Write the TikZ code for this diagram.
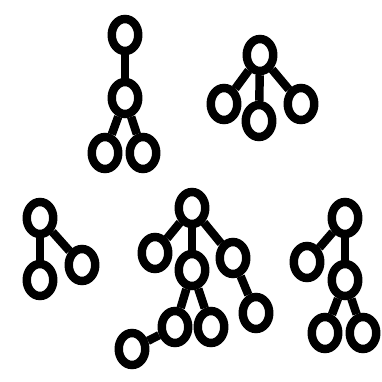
\documentclass[tikz,border=0pt]{standalone}
\usepackage{tikz}
\usetikzlibrary{shapes.geometric}

\begin{document}
\begin{tikzpicture}[x=0.01cm,y=-0.01cm,
    vertex/.style={ellipse, draw, line width=2.4pt, minimum width=0.265cm, minimum height=0.32cm, inner sep=0pt},
    every path/.style={line width=2.4pt}]
    \useasboundingbox (0,0) rectangle (381,382);

    % Tree A (top middle)
    \node[vertex] (a1) at (125,35) {};
    \node[vertex] (a2) at (125,98) {};
    \node[vertex] (a3) at (105,153) {};
    \node[vertex] (a4) at (143,153) {};
    \draw (a1) -- (a2);
    \draw (a2) -- (a3);
    \draw (a2) -- (a4);

    % Tree B (top right)
    \node[vertex] (b1) at (260,55) {};
    \node[vertex] (b2) at (224,104) {};
    \node[vertex] (b3) at (259,121) {};
    \node[vertex] (b4) at (301,104) {};
    \draw (b1) -- (b2);
    \draw (b1) -- (b3);
    \draw (b1) -- (b4);

    % Tree C (bottom left)
    \node[vertex] (c1) at (40,218) {};
    \node[vertex] (c2) at (40,280) {};
    \node[vertex] (c3) at (82,265) {};
    \draw (c1) -- (c2);
    \draw (c1) -- (c3);

    % Tree D (bottom middle)
    \node[vertex] (d1) at (192,208) {};
    \node[vertex] (d2) at (155,253) {};
    \node[vertex] (d3) at (192,270) {};
    \node[vertex] (d4) at (233,258) {};
    \node[vertex] (d5) at (256,313) {};
    \node[vertex] (d6) at (175,327) {};
    \node[vertex] (d7) at (211,327) {};
    \node[vertex] (d8) at (132,349) {};
    \draw (d1) -- (d2);
    \draw (d1) -- (d3);
    \draw (d1) -- (d4);
    \draw (d4) -- (d5);
    \draw (d3) -- (d6);
    \draw (d3) -- (d7);
    \draw (d6) -- (d8);

    % Tree E (bottom right)
    \node[vertex] (e1) at (345,218) {};
    \node[vertex] (e2) at (307,262) {};
    \node[vertex] (e3) at (345,280) {};
    \node[vertex] (e4) at (325,333) {};
    \node[vertex] (e5) at (363,333) {};
    \draw (e1) -- (e2);
    \draw (e1) -- (e3);
    \draw (e3) -- (e4);
    \draw (e3) -- (e5);
\end{tikzpicture}
\end{document}
